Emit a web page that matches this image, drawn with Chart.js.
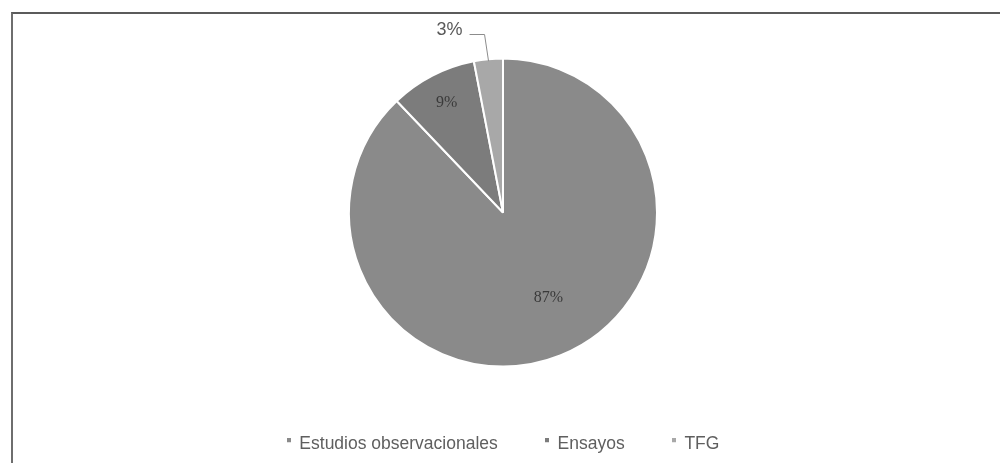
<!DOCTYPE html>
<html>
<head>
<meta charset="utf-8">
<script src="https://cdn.jsdelivr.net/npm/chart.js@4/dist/chart.umd.min.js"></script>
<style>
    html, body { margin: 0; padding: 0; background: #fff; }
    #wrap { position: relative; width: 1000px; height: 463px; overflow: hidden; }
    #frame {
        position: absolute; left: 11px; top: 12px; width: 1000px; height: 470px;
        border-top: 2px solid #5b5b5b; border-left: 2px solid #6e6e6e;
    }
    #pieChart { position: absolute; left: 0; top: 0; }
</style>
</head>
<body>
<div id="wrap">
    <div id="frame"></div>
    <canvas id="pieChart" width="1000" height="463"></canvas>
</div>
<script>
// Datos
const labels = ['Estudios observacionales', 'Ensayos', 'TFG'];
const values = [87, 9, 3];
const pctLabels = ['87%', '9%', '3%'];

const COLORS = ['#8a8a8a', '#7c7c7c', '#a8a8a8'];

// bullet for the legend: small square sitting near the top of the text line
function bullet(color) {
    const c = document.createElement('canvas');
    c.width = 4; c.height = 12;
    const g = c.getContext('2d');
    g.fillStyle = color;
    g.fillRect(0, 0, 4, 4);
    return c;
}

// label placement: fraction of radius (0 = outside with leader) and angle nudge
const LABEL_POS = [0.63, 0.8, 0];
const LABEL_NUDGE = [-0.105, 0, 0];

const sliceLabels = {
    id: 'sliceLabels',
    afterDatasetsDraw(chart) {
        const ctx = chart.ctx;
        const arcs = chart.getDatasetMeta(0).data;
        arcs.forEach((arc, i) => {
            const { x, y, startAngle, endAngle, outerRadius } = arc.getProps(['x', 'y', 'startAngle', 'endAngle', 'outerRadius'], true);
            const mid = (startAngle + endAngle) / 2;
            ctx.save();
            if (LABEL_POS[i] > 0) {
                const r = outerRadius * LABEL_POS[i];
                const a = mid + LABEL_NUDGE[i];
                ctx.font = '16px "Liberation Serif"';
                ctx.fillStyle = '#3a3a3a';
                ctx.textAlign = 'center';
                ctx.textBaseline = 'middle';
                ctx.fillText(pctLabels[i], x + Math.cos(a) * r, y + Math.sin(a) * r);
            } else {
                // outside label with leader line
                const ex = x + Math.cos(mid) * (outerRadius - 2);
                const ey = y + Math.sin(mid) * (outerRadius - 2);
                const ky = y - outerRadius - 24;
                const kx = ex - 4;
                ctx.strokeStyle = '#8c8c8c';
                ctx.lineWidth = 1;
                ctx.beginPath();
                ctx.moveTo(ex, ey);
                ctx.lineTo(kx, ky);
                ctx.lineTo(kx - 15, ky);
                ctx.stroke();
                ctx.font = '18px "Liberation Sans"';
                ctx.fillStyle = '#595959';
                ctx.textAlign = 'right';
                ctx.textBaseline = 'middle';
                ctx.fillText(pctLabels[i], kx - 22, ky - 4);
            }
            ctx.restore();
        });
    }
};

new Chart(document.getElementById('pieChart'), {
    type: 'pie',
    data: {
        labels,
        datasets: [{
            data: values,
            backgroundColor: COLORS,
            borderColor: '#ffffff',
            borderWidth: 2,
            radius: 154,
        }]
    },
    options: {
        responsive: false,
        animation: false,
        layout: { padding: { top: 36.5, left: 6, right: 0, bottom: 0 } },
        plugins: {
            tooltip: { enabled: false },
            legend: {
                position: 'bottom',
                labels: {
                    color: '#5f5f5f',
                    font: { family: 'Liberation Sans', size: 17.5 },
                    usePointStyle: true,
                    pointStyleWidth: 4,
                    boxHeight: 4,
                    padding: 47,
                    generateLabels: chart => labels.map((t, i) => ({
                        text: t,
                        fillStyle: COLORS[i],
                        strokeStyle: 'transparent',
                        lineWidth: 0,
                        pointStyle: bullet(COLORS[i]),
                        fontColor: '#5f5f5f',
                        hidden: false,
                        index: i,
                    }))
                }
            }
        }
    },
    plugins: [sliceLabels]
});
</script>
</body>
</html>
